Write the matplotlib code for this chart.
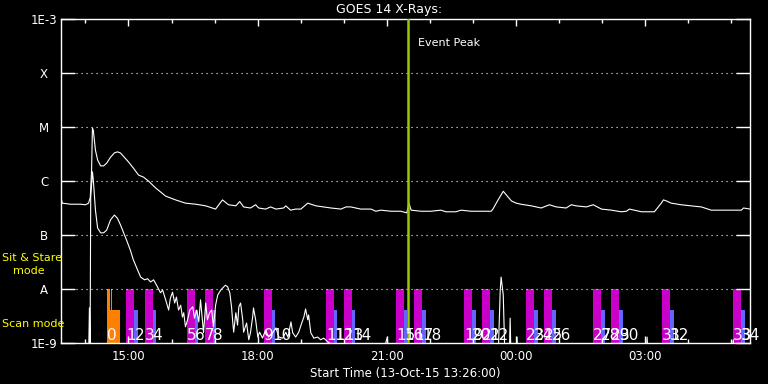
import numpy as np
import matplotlib
matplotlib.use('Agg')
import matplotlib.pyplot as plt
from matplotlib.ticker import FixedLocator, NullFormatter

# time axis: hours after the start time 13:26
long_hr = [0, 0.03, 0.22, 0.45, 0.57, 0.64, 0.68, 0.71, 0.73, 0.75, 0.80, 0.85, 0.92, 0.99,
           1.06, 1.15, 1.24, 1.31, 1.38, 1.47, 1.57, 1.68, 1.80, 1.92, 2.03, 2.20, 2.43, 2.66,
           2.89, 3.13, 3.36, 3.59, 3.75, 3.89, 4.06, 4.15, 4.24, 4.40, 4.52, 4.59, 4.75, 4.87,
           4.99, 5.17, 5.22, 5.33, 5.45, 5.57, 5.73, 5.92, 6.27, 6.50, 6.62, 6.73, 6.96, 7.20,
           7.31, 7.43, 7.66, 7.89, 8.03, 8.08, 8.13, 8.36, 8.59, 8.82, 8.94, 9.17, 9.29, 9.52,
           9.99, 10.03, 10.15, 10.27, 10.46, 10.57, 10.68, 10.92, 11.15, 11.34, 11.50, 11.73,
           11.85, 11.96, 12.20, 12.36, 12.55, 12.78, 13.01, 13.13, 13.20, 13.48, 13.71, 13.78,
           13.87, 13.94, 13.99, 14.06, 14.17, 14.40, 14.63, 14.87, 15.10, 15.34, 15.80, 15.85, 16.0]
long_log = [-6.31, -6.41, -6.43, -6.43, -6.44, -6.41, -6.30, -5.80, -5.02, -5.06, -5.43, -5.61,
            -5.72, -5.72, -5.67, -5.56, -5.48, -5.46, -5.48, -5.56, -5.65, -5.76, -5.89, -5.93,
            -6.00, -6.13, -6.28, -6.35, -6.41, -6.43, -6.46, -6.52, -6.35, -6.44, -6.46, -6.38,
            -6.48, -6.50, -6.44, -6.50, -6.52, -6.48, -6.52, -6.50, -6.46, -6.54, -6.52, -6.52,
            -6.41, -6.46, -6.50, -6.52, -6.48, -6.48, -6.52, -6.52, -6.56, -6.54, -6.56, -6.56,
            -6.59, -6.41, -6.54, -6.56, -6.56, -6.54, -6.57, -6.57, -6.54, -6.56, -6.56, -6.52,
            -6.35, -6.19, -6.37, -6.41, -6.43, -6.46, -6.50, -6.44, -6.48, -6.50, -6.44, -6.46,
            -6.48, -6.44, -6.52, -6.54, -6.57, -6.56, -6.52, -6.57, -6.57, -6.57, -6.48, -6.41,
            -6.35, -6.37, -6.41, -6.44, -6.46, -6.48, -6.54, -6.54, -6.54, -6.50, -6.52]

short_hr = [0, 0.64, 0.66, 0.675, 0.69, 0.73, 0.75, 0.80, 0.85, 0.92, 0.99, 1.06, 1.15, 1.24,
            1.31, 1.38, 1.43, 1.52, 1.61, 1.68, 1.78, 1.85, 1.94, 2.01, 2.08, 2.15, 2.24, 2.31,
            2.36, 2.43, 2.50, 2.54, 2.59, 2.64, 2.68, 2.73, 2.78, 2.82, 2.85, 2.89, 2.94, 2.99,
            3.06, 3.10, 3.15, 3.20, 3.24, 3.31, 3.36, 3.40, 3.45, 3.50, 3.54, 3.59, 3.64, 3.71,
            3.78, 3.82, 3.87, 3.92, 3.96, 3.99, 4.01, 4.06, 4.10, 4.13, 4.17, 4.22, 4.24, 4.31,
            4.36, 4.40, 4.45, 4.47, 4.52, 4.57, 4.61, 4.68, 4.75, 4.82, 4.92, 4.99, 5.06, 5.15,
            5.22, 5.27, 5.34, 5.38, 5.45, 5.52, 5.59, 5.64, 5.68, 5.73, 5.75, 5.80, 5.87, 5.96,
            6.03, 6.10, 6.20, 6.34, 7.43, 7.58, 7.60, 10.15, 10.20, 10.22, 10.27, 10.31, 10.41,
            10.43, 10.45, 10.57, 10.59, 10.61, 13.59, 13.61, 13.64, 15.59, 15.61, 15.64, 16.0]
short_log = [-9.3, -9.3, -8.35, -9.2, -6.30, -5.83, -5.98, -6.54, -6.87, -6.96, -6.96, -6.91,
             -6.72, -6.63, -6.69, -6.81, -6.91, -7.09, -7.28, -7.46, -7.65, -7.78, -7.83, -7.81,
             -7.87, -7.83, -7.96, -8.07, -8.02, -8.20, -8.39, -8.17, -8.06, -8.26, -8.15, -8.39,
             -8.30, -8.52, -8.44, -8.70, -8.57, -8.39, -8.33, -8.54, -8.39, -8.61, -8.20, -8.81,
             -8.26, -8.57, -8.44, -8.39, -8.70, -8.30, -8.11, -8.02, -7.96, -7.93, -7.96, -8.07,
             -8.33, -8.63, -8.80, -8.44, -8.67, -8.33, -8.26, -8.57, -8.80, -8.63, -8.94, -8.81,
             -8.52, -8.35, -8.57, -8.89, -8.80, -8.91, -8.76, -8.89, -8.81, -8.72, -8.89, -8.91,
             -8.80, -8.89, -8.61, -8.81, -8.89, -8.80, -8.63, -8.52, -8.37, -8.57, -8.48, -8.81,
             -8.91, -8.89, -8.94, -8.91, -8.98, -9.06, -9.3, -8.89, -9.3, -9.3, -8.02, -7.78,
             -8.11, -9.3, -9.3, -8.54, -9.3, -9.3, -8.89, -9.3, -9.3, -8.89, -9.3, -9.3, -8.94,
             -9.3, -9.3]

# sit & stare (orange) blocks: start, duration, top (log flux)
sit_start = [1.079, 1.079, 1.165, 1.202]
sit_dur = [0.302, 0.063, 0.014, 0.017]
sit_top = [-8.39, -8.0, -8.0, -8.0]

# scan mode rasters: magenta then blue
scan_start = [1.52, 1.94, 2.92, 3.34, 4.71, 6.15, 6.57, 7.78, 8.20, 9.36, 9.78,
              10.80, 11.22, 12.36, 12.78, 13.96, 15.61]
scan_dur = 0.186
blue_dur = 0.08
scan_top = -8.0
blue_top = -8.39

event_peak = 8.05
yticks = [1e-9, 1e-8, 1e-7, 1e-6, 1e-5, 1e-4, 1e-3]
ylabels = ['1E-9', 'A', 'B', 'C', 'M', 'X', '1E-3']
xtick_hr = [1.5667, 4.5667, 7.5667, 10.5667, 13.5667]
xlabels = ['15:00', '18:00', '21:00', '00:00', '03:00']
minor_hr = [0.5667 + i for i in range(16)]

MAG, BLUE, ORANGE, YEL, GREEN = '#c800c8', '#6464ff', '#ff8000', '#ffff00', '#9bc805'

fig = plt.figure(figsize=(7.68, 3.84), dpi=100, facecolor='black')
ax = fig.add_axes([61/768, 1 - 343/384, 689/768, 324/384], facecolor='black')
ax.set_yscale('log')
ax.set_xlim(0, 16)
ax.set_ylim(1e-9, 1e-3)

for s, d, t in zip(sit_start, sit_dur, sit_top):
    ax.bar(s, 10**t - 1e-9, width=d, bottom=1e-9, align='edge', color=ORANGE, lw=0, zorder=1)
for s in scan_start:
    ax.bar(s, 10**scan_top - 1e-9, width=scan_dur, bottom=1e-9, align='edge', color=MAG, lw=0, zorder=1)
    ax.bar(s + scan_dur, 10**blue_top - 1e-9, width=blue_dur, bottom=1e-9, align='edge',
           color=BLUE, lw=0, zorder=1)

ax.plot(long_hr, 10**np.array(long_log), color='white', lw=0.8, zorder=2)
ax.plot(short_hr, 10**np.array(short_log), color='white', lw=0.8, zorder=2)

ax.axvline(event_peak, color=GREEN, lw=1.8, zorder=3)
ax.text(event_peak + 0.24, 10**-3.44, 'Event Peak', color='white', fontsize=8, va='center')

# observation numbers
lab_x = [sit_start[0]]
for s in scan_start:
    lab_x += [s, s + scan_dur]
for i, x in enumerate(lab_x):
    ax.text(x, 10**-8.94, str(i), color='white', fontsize=11, va='baseline', ha='left', zorder=4)

for sp in ax.spines.values():
    sp.set_color('white')
    sp.set_linewidth(1)

ax.yaxis.set_major_locator(FixedLocator(yticks))
ax.yaxis.set_minor_locator(FixedLocator([]))
ax.yaxis.set_minor_formatter(NullFormatter())
ax.set_yticklabels(ylabels)
for lbl in ax.get_yticklabels():
    lbl.set_horizontalalignment('center')
ax.tick_params(axis='y', which='major', direction='in', length=10, width=1, color='white',
               labelcolor='white', labelsize=8.5, pad=12.2, right=True)
ax.grid(axis='y', which='major', color='white', linestyle=(0, (1, 3.5)), lw=0.8)

ax.xaxis.set_major_locator(FixedLocator(xtick_hr))
ax.xaxis.set_minor_locator(FixedLocator(minor_hr))
ax.set_xticklabels(xlabels)
ax.tick_params(axis='x', which='major', direction='in', length=5, width=1, color='white',
               labelcolor='white', labelsize=8.5, pad=5, top=True)
ax.tick_params(axis='x', which='minor', direction='in', length=3, width=1, color='white', top=True)
ax.set_xlabel('Start Time (13-Oct-15 13:26:00)', color='white', fontsize=8.5, labelpad=3)

fig.text(389/768, 1 - 9/384, 'GOES 14 X-Rays:', color='white', fontsize=9, ha='center', va='center')
fig.text(2/768, 1 - 258/384, 'Sit & Stare', color=YEL, fontsize=8, ha='left', va='center')
fig.text(13/768, 1 - 271/384, 'mode', color=YEL, fontsize=8, ha='left', va='center')
fig.text(2/768, 1 - 324/384, 'Scan mode', color=YEL, fontsize=8, ha='left', va='center')

fig.savefig('out.png', dpi=100, facecolor='black')
